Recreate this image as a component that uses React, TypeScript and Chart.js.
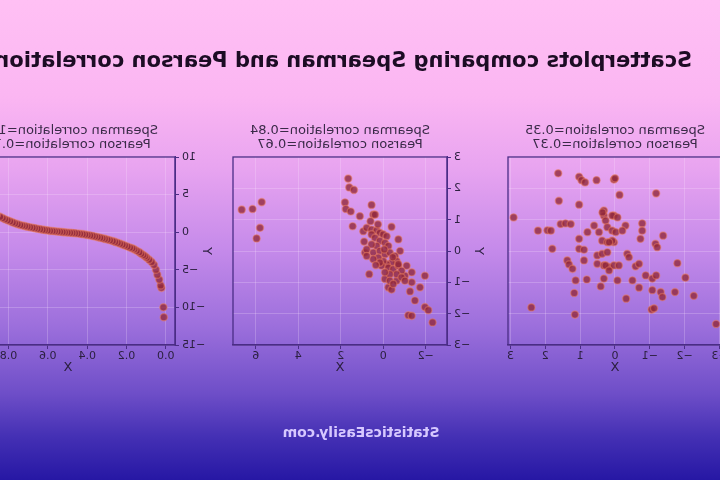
import React, { useEffect, useRef } from "react";
import { Chart, registerables } from "chart.js";
Chart.register(...registerables);

const MAIN_TITLE = "Scatterplots comparing Spearman and Pearson correlations";
const FOOTER = "StatisticsEasily.com";

// Panel 1 (monotonic, non-linear)
const titlesA = ["Spearman correlation=1.00", "Pearson correlation=0.74"];
const xA = [0.010, 0.012, 0.022, 0.026, 0.033, 0.043, 0.050, 0.060, 0.072, 0.085, 0.097, 0.105, 0.114, 0.125, 0.135, 0.148, 0.160, 0.170, 0.182, 0.195, 0.208, 0.220, 0.233, 0.245, 0.258, 0.270, 0.284, 0.297, 0.310, 0.322, 0.334, 0.347, 0.360, 0.372, 0.385, 0.398, 0.410, 0.423, 0.436, 0.449, 0.462, 0.475, 0.487, 0.500, 0.513, 0.525, 0.538, 0.551, 0.564, 0.576, 0.589, 0.602, 0.615, 0.627, 0.640, 0.653, 0.666, 0.678, 0.691, 0.704, 0.716, 0.729, 0.741, 0.754, 0.767, 0.779, 0.792, 0.805, 0.818, 0.830, 0.843, 0.860, 0.880, 0.900, 0.930, 0.960, 0.990];
const yA = [-11.3, -9.99, -7.4, -7.08, -6.30, -5.65, -4.99, -4.34, -3.95, -3.65, -3.39, -3.2, -3.04, -2.85, -2.65, -2.47, -2.28, -2.15, -2.04, -1.9, -1.77, -1.65, -1.52, -1.40, -1.29, -1.18, -1.08, -0.98, -0.89, -0.81, -0.73, -0.65, -0.57, -0.50, -0.43, -0.37, -0.31, -0.26, -0.21, -0.17, -0.13, -0.10, -0.08, -0.05, -0.02, 0.01, 0.05, 0.08, 0.12, 0.15, 0.18, 0.24, 0.29, 0.34, 0.40, 0.46, 0.53, 0.59, 0.66, 0.73, 0.81, 0.88, 0.96, 1.07, 1.18, 1.30, 1.44, 1.58, 1.72, 1.88, 2.05, 2.3, 2.6, 2.9, 3.4, 4.1, 5.2];

// Panel 2 (linear with outliers)
const titlesB = ["Spearman correlation=0.84", "Pearson correlation=0.67"];
const xB = [6.66, 6.15, 5.72, 5.80, 5.96, 1.65, 1.60, 1.38, 1.80, 1.76, 1.53, 1.44, 1.10, 0.55, 0.47, -0.39, 0.94, -0.71, 0.86, 0.66, -0.79, -1.10, -1.34, -1.96, -1.34, -1.73, -1.26, -1.49, -1.96, -2.12, -1.18, -1.34, -2.32, -0.24, -0.39, -0.08, -0.63, -1.02, 0.39,
  0.78, 0.55, 0.31, 0.16, 0.0, -0.16, 0.55, 0.39, 0.16, -0.08, -0.24, 0.31, 0.55, 0.78, 0.47, 0.16, -0.08, -0.31, -0.55, -0.63, -0.39, -0.16, 0.0, 0.23, 0.08, -0.24, -0.47, -0.71, -0.86, -0.63, -0.31, -0.08, -0.86, -1.02, -0.31, -0.47, -0.71, 0.16, 0.47, 0.78, 0.9, 0.6, 0.25, -0.05, 0.35, -0.45];
const yB = [1.32, 1.34, 1.56, 0.74, 0.40, 2.31, 2.03, 1.95, 1.55, 1.34, 1.26, 0.79, 1.11, 1.47, 1.16, 0.77, 0.63, 0.37, -0.05, -0.74, 0.0, -0.47, -0.68, -0.79, -1.0, -1.16, -1.29, -1.58, -1.79, -1.89, -2.05, -2.07, -2.28, -1.16, -1.23, -0.89, -0.95, -0.79, 1.16,
  0.74, 0.68, 0.66, 0.58, 0.53, 0.47, 0.53, 0.42, 0.32, 0.26, 0.16, 0.16, 0.21, 0.05, -0.05, 0.0, -0.11, -0.05, -0.16, -0.32, -0.37, -0.42, -0.32, -0.21, -0.47, -0.53, -0.58, -0.47, -0.63, -0.74, -0.74, -0.68, -0.84, -0.95, -0.95, -1.05, -0.42, -0.37, -0.26, -0.16, 0.3, 0.95, 0.85, 0.05, -0.45, -0.2];

// Panel 3 (weak relation)
const titlesC = ["Spearman correlation=0.35", "Pearson correlation=0.37"];
const xC = [1.63, 1.03, 0.96, 0.86, 0.53, 0.03, 1.61, 1.03, 2.91, 2.21, 1.94, 1.84, 1.56, 1.42, 1.27, 1.80, 1.03, 1.03, 0.89, 0.79, 0.60, 0.46, 0.32, 0.32, 0.27, 0.22, 0.03, 0.37, 0.22, 0.03, 0.51, 0.37, 0.22, 0.51, 0.32, 0.17, 0.03, 1.37, 1.32, 1.22, 0.89, 1.13, 0.81, 0.41, 0.32, 1.17, 2.40, 1.15,
  0.0, -0.13, -1.18, 0.36, 0.08, -0.07, -0.30, -0.78, -0.78, -0.73, -1.38, -1.16, -1.21, 0.08, -0.02, -0.21, 0.08, 0.17, -0.35, -0.40, -0.59, -0.69, 0.27, 0.17, -0.11, -1.79, -0.88, -1.07, -1.18, -0.07, -0.50, -0.69, -2.02, -1.07, -1.31, -1.36, -1.72, -2.26, -0.32, -1.05, -1.12, -2.90];
const yC = [2.48, 2.37, 2.26, 2.19, 2.26, 2.28, 1.60, 1.48, 1.07, 0.65, 0.66, 0.65, 0.86, 0.88, 0.86, 0.07, 0.39, 0.07, 0.04, 0.60, 0.81, 0.60, 1.29, 1.13, 0.97, 0.76, 1.13, 0.33, 0.28, 0.28, -0.14, -0.09, -0.04, -0.41, -0.46, -0.51, -0.46, -0.30, -0.43, -0.57, -0.30, -0.94, -0.91, -1.13, -0.88, -1.34, -1.80, -2.03,
  2.32, 1.79, 1.84, 1.23, 1.13, 1.07, 0.81, 0.88, 0.65, 0.39, 0.49, 0.23, 0.12, 0.65, 0.60, 0.65, 0.33, 0.28, -0.09, -0.20, -0.49, -0.41, -0.46, -0.62, -0.46, -0.39, -0.78, -0.88, -0.78, -0.94, -0.94, -1.17, -0.85, -1.25, -1.31, -1.47, -1.31, -1.43, -1.52, -1.87, -1.83, -2.33];

const FONT = "'DejaVu Sans', 'Liberation Sans', sans-serif";
const TICK_COLOR = "#2c2040";
const SPINE = "#4b2d86";
const GRID = "rgba(255,235,255,0.22)";

const CANVAS_W = 264;
const CANVAS_H = 253;

type PanelProps = {
  left: number;
  xs: number[];
  ys: number[];
  xMin: number; xMax: number; xStep: number; xDec: number;
  yMin: number; yMax: number; yStep: number;
  titles: string[];
};

const fmt = (v: number, dec: number) => {
  const s = Math.abs(v).toFixed(dec);
  return (v < -1e-9 ? "\u2212" : "") + s;
};

function Panel(p: PanelProps) {
  const ref = useRef<HTMLCanvasElement>(null);
  useEffect(() => {
    if (!ref.current) return;
    const data = p.xs.map((x, i) => ({ x, y: p.ys[i] }));
    const frame = {
      id: "frame",
      afterDraw(chart: any) {
        const { ctx, chartArea } = chart;
        ctx.save();
        ctx.strokeStyle = SPINE;
        ctx.lineWidth = 1.3;
        ctx.strokeRect(chartArea.left, chartArea.top, chartArea.right - chartArea.left, chartArea.bottom - chartArea.top);
        ctx.fillStyle = "#3a2a48";
        ctx.font = `13px ${FONT}`;
        ctx.textAlign = "center";
        ctx.textBaseline = "middle";
        const cx = (chartArea.left + chartArea.right) / 2;
        ctx.fillText(p.titles[0], cx, chartArea.top - 26);
        ctx.fillText(p.titles[1], cx, chartArea.top - 12);
        ctx.restore();
      },
    };
    const axisCommon = {
      type: "linear" as const,
      grid: { color: GRID, tickColor: SPINE, tickLength: 4, lineWidth: 1 },
      border: { color: SPINE, width: 1.3 },
    };
    const chart = new Chart(ref.current, {
      type: "scatter",
      data: {
        datasets: [
          {
            data,
            pointRadius: 3.6,
            backgroundColor: "rgba(145,40,60,0.8)",
            borderColor: "rgba(235,125,95,0.5)",
            borderWidth: 1.4,
          },
        ],
      },
      options: {
        animation: false,
        responsive: false,
        devicePixelRatio: 1,
        layout: { padding: { top: 33, right: 10, left: 0, bottom: 0 } },
        plugins: { legend: { display: false }, tooltip: { enabled: false }, title: { display: false } },
        scales: {
          x: {
            ...axisCommon,
            min: p.xMin,
            max: p.xMax,
            afterFit: (s: any) => { s.height = 32; },
            ticks: {
              stepSize: p.xStep,
              includeBounds: false,
              autoSkip: false,
              maxRotation: 0,
              padding: 1,
              color: TICK_COLOR,
              font: { family: FONT, size: 11 },
              callback: (v: any) => fmt(Number(v), p.xDec),
            },
            title: { display: true, text: "X", color: TICK_COLOR, font: { family: FONT, size: 13 }, padding: { top: 1, bottom: 2 } },
          },
          y: {
            ...axisCommon,
            min: p.yMin,
            max: p.yMax,
            afterFit: (s: any) => { s.width = 40; },
            ticks: {
              stepSize: p.yStep,
              includeBounds: false,
              autoSkip: false,
              padding: 3,
              color: TICK_COLOR,
              font: { family: FONT, size: 11 },
              callback: (v: any) => fmt(Number(v), 0),
            },
            title: { display: true, text: "Y", color: TICK_COLOR, font: { family: FONT, size: 13 }, padding: { top: 1, bottom: 2 } },
          },
        },
      },
      plugins: [frame],
    });
    return () => chart.destroy();
  }, []);
  return (
    <canvas
      ref={ref}
      width={CANVAS_W}
      height={CANVAS_H}
      style={{ position: "absolute", left: p.left, top: 124, width: CANVAS_W, height: CANVAS_H }}
    />
  );
}

export default function App() {
  return (
    <div
      style={{
        position: "fixed",
        left: 0,
        top: 0,
        width: 720,
        height: 480,
        overflow: "hidden",
        transform: "scaleX(-1)",
        background:
          "linear-gradient(to bottom, #ffc0f4 0%, #fbb6f2 20%, #e8a4f0 35%, #c58aea 52%, #9c6fdc 68%, #6e4ec8 82%, #4430b4 91%, #2617a4 100%)",
      }}
    >
      <div
        style={{
          position: "absolute",
          left: 28,
          top: 46,
          whiteSpace: "nowrap",
          font: `bold 21px ${FONT}`,
          lineHeight: "28px",
          color: "#1c0c24",
        }}
      >
        {MAIN_TITLE}
      </div>
      <Panel left={-42} xs={xC} ys={yC} xMin={-3.07} xMax={3.07} xStep={1} xDec={0} yMin={-3} yMax={3} yStep={1} titles={titlesC} />
      <Panel left={233} xs={xB} ys={yB} xMin={-3.0} xMax={7.07} xStep={2} xDec={0} yMin={-3} yMax={3} yStep={1} titles={titlesB} />
      <Panel left={505} xs={xA} ys={yA} xMin={-0.047} xMax={1.042} xStep={0.2} xDec={1} yMin={-15} yMax={10} yStep={5} titles={titlesA} />
      <div
        style={{
          position: "absolute",
          left: 0,
          width: 718,
          top: 422,
          textAlign: "center",
          font: `bold 14px ${FONT}`,
          lineHeight: "20px",
          color: "#d6c8ff",
        }}
      >
        {FOOTER}
      </div>
    </div>
  );
}
